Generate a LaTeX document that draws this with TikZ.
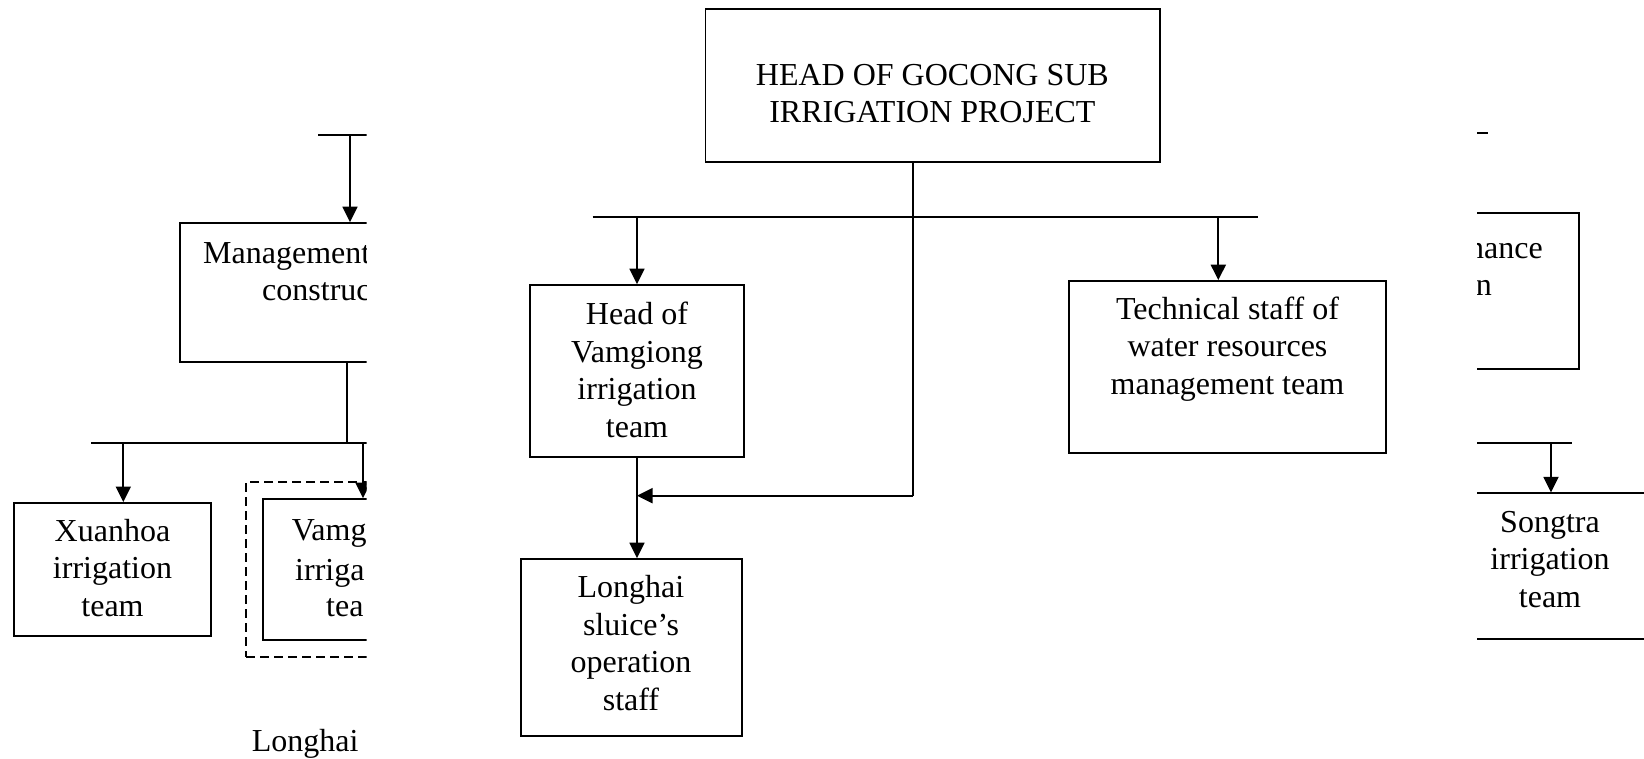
\documentclass[tikz,border=0pt]{standalone}
\usepackage{fontspec}
\setmainfont{Liberation Serif}
\usetikzlibrary{arrows.meta}
\tikzset{
  box/.style={draw, line width=1.8pt, inner sep=0pt, rectangle},
  dbox/.style={draw, line width=1.5pt, dash pattern=on 9pt off 5pt, inner sep=0pt, rectangle},
  txt/.style={inner sep=0pt, align=center, font=\fontsize{32}{37.5}\selectfont},
  ln/.style={line width=1.8pt},
  arr/.style={line width=1.8pt, -{Triangle[length=15.5pt,width=15pt]}},
}
\begin{document}
\begin{tikzpicture}[x=1pt,y=-1pt]
\useasboundingbox (0,0) rectangle (1644,758);

% ---------------- main chart ----------------
\node[box, minimum width=454.6pt, minimum height=152.4pt] (head) at (932.7,85.5) {};
\node[txt] (headt) at (932.4,93.4) {HEAD OF GOCONG SUB\\IRRIGATION PROJECT};

\node[box, minimum width=214pt, minimum height=172.3pt] (vg) at (637,371.2) {};
\node[txt] (vgt) at (637,369.7) {Head of\\Vamgiong\\irrigation\\team};

\node[box, minimum width=221pt, minimum height=177pt] (lh) at (631.2,647.5) {};
\node[txt] (lht) at (631,643) {Longhai\\sluice’s\\operation\\staff};

\node[box, minimum width=316.4pt, minimum height=172.3pt] (ts) at (1227.5,367.2) {};
\node[txt] (tst) at (1227.5,348.8) {Technical staff of\\water resources\\management team};

\coordinate (busL) at (592.5,217.3);
\coordinate (busR) at (1258.3,217.3);
\coordinate (hj) at (913,495.7);
\coordinate (tsa) at (1218.3,217.3);

\draw[ln] (busL) -- (busR);
\draw[ln] (head.south -| hj) -- (hj);
\draw[arr] (hj) -- (hj -| vg.south);
\draw[arr] (busL -| vg.north) -- (vg.north);
\draw[arr] (vg.south) -- (lh.north -| vg.south);
\draw[arr] (tsa) -- (tsa |- ts.north);

% ---------------- left fragment (clipped) ----------------
\begin{scope}
\clip (0,0) rectangle (366.7,758);
\node[box, minimum width=340pt, minimum height=139pt] (mg) at (350,292.5) {};
\node[txt, anchor=base west] (mgt1) at (203,263.3) {Management};
\node[txt, anchor=base west] (mgt2) at (262,300) {construc};

\node[box, minimum width=197pt, minimum height=133pt] (xh) at (112.5,569.5) {};
\node[txt] (xht) at (112.5,567.9) {Xuanhoa\\irrigation\\team};

\node[dbox, minimum width=234pt, minimum height=175pt] (dv) at (363,569.5) {};
\node[box, minimum width=200pt, minimum height=141pt] (vm) at (363,569.5) {};
\node[txt, anchor=base west] (vmt1) at (291.7,540) {Vamg};
\node[txt, anchor=base west] (vmt2) at (295,580) {irriga};
\node[txt, anchor=base west] (vmt3) at (326,616) {tea};

\node[txt, anchor=base west] (lgt) at (251.7,751.7) {Longhai};

\coordinate (ltop) at (318,135);
\coordinate (ltopR) at (380,135);
\coordinate (lj) at (347,443.3);
\coordinate (lbusL) at (91,443.3);
\coordinate (lbusR) at (380,443.3);
\coordinate (xa) at (123.3,443.3);

\draw[ln] (ltop) -- (ltopR);
\draw[arr] (ltop -| mg.north) -- (mg.north);
\draw[ln] (lj |- mg.south) -- (lj);
\draw[ln] (lbusL) -- (lbusR);
\draw[arr] (xa) -- (xa |- xh.north);
\draw[arr] (lbusL -| vm.north) -- (vm.north);
\end{scope}

% ---------------- right fragment (clipped) ----------------
\begin{scope}
\clip (1477,0) rectangle (1644,758);
\node[box, minimum width=200pt, minimum height=155.7pt] (mt) at (1479,291.2) {};
\node[txt, anchor=base east] (mtt1) at (1543,258.3) {nance};
\node[txt, anchor=base east] (mtt2) at (1492,295) {n};

\node[box, minimum width=300pt, minimum height=146pt] (sg) at (1551,566.3) {};
\node[txt] (sgt) at (1550,559.2) {Songtra\\irrigation\\team};

\coordinate (rtopL) at (1400,133);
\coordinate (rtopR) at (1488,133);
\coordinate (rbusL) at (1400,443.3);
\coordinate (rbusR) at (1571.7,443.3);

\draw[ln] (rtopL) -- (rtopR);
\draw[ln] (rbusL) -- (rbusR);
\draw[arr] (rbusL -| sg.north) -- (sg.north);
\end{scope}
\end{tikzpicture}
\end{document}
